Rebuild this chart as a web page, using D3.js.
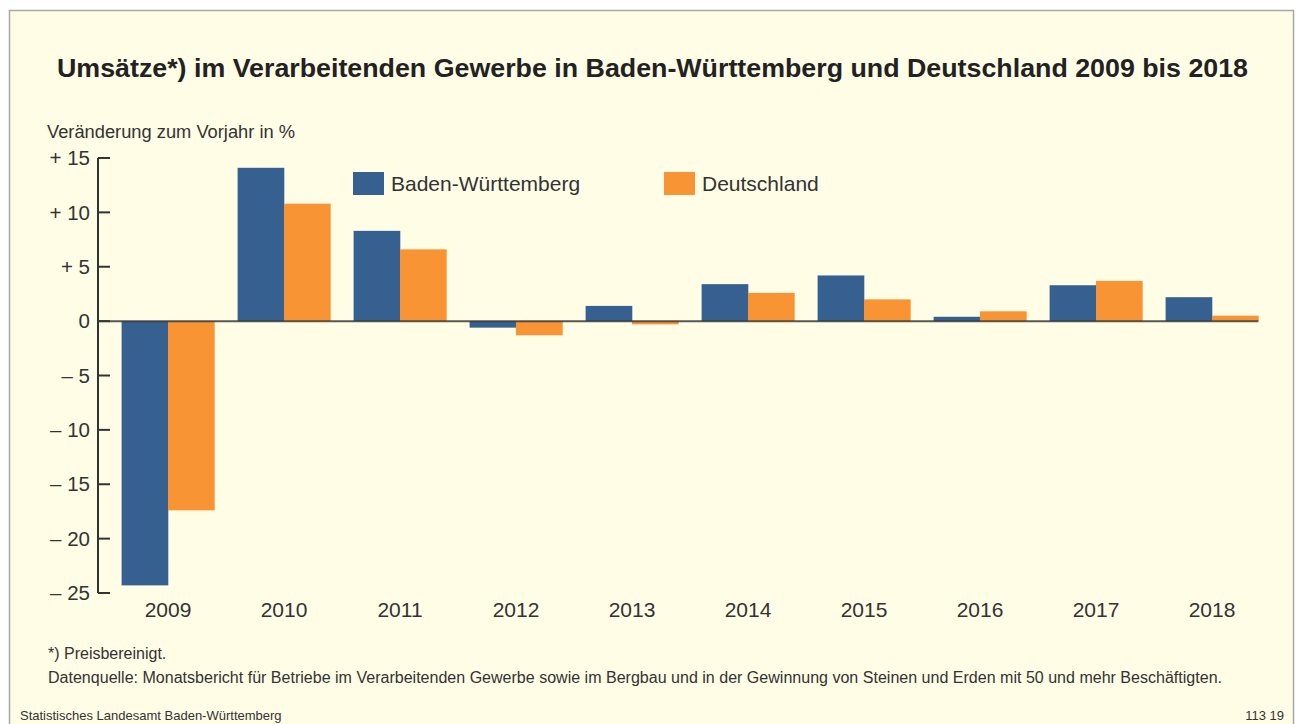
<!DOCTYPE html>
<html>
<head>
<meta charset="utf-8">
<script src="https://cdn.jsdelivr.net/npm/d3@7"></script>
<style>
  body { margin: 0; background: #ffffff; }
  svg { display: block; }
</style>
</head>
<body>
<div id="chart"></div>
<script>
const years = ['2009', '2010', '2011', '2012', '2013', '2014', '2015', '2016', '2017', '2018'];
const bwValues = [-24.3, 14.1, 8.3, -0.6, 1.4, 3.4, 4.2, 0.4, 3.3, 2.2];
const deValues = [-17.4, 10.8, 6.6, -1.3, -0.3, 2.6, 2.0, 0.9, 3.7, 0.5];
const seriesNames = ['Baden-Württemberg', 'Deutschland'];
const seriesColors = ['#35608f', '#f89434'];
const yTicks = [15, 10, 5, 0, -5, -10, -15, -20, -25];

const width = 1297;
const height = 724;
const font = '"Liberation Sans", Arial, sans-serif';
const textColor = '#333333';

const svg = d3.select('#chart')
  .append('svg')
  .attr('width', width)
  .attr('height', height);

// panel
svg.append('rect')
  .attr('x', 9.5)
  .attr('y', 10.5)
  .attr('width', 1284)
  .attr('height', 730)
  .attr('fill', '#fffde6')
  .attr('stroke', '#a8a8a8')
  .attr('stroke-width', 1.5);

// title
svg.append('text')
  .attr('x', 57)
  .attr('y', 77)
  .attr('font-family', font)
  .attr('font-weight', 'bold')
  .attr('font-size', '26.5px')
  .attr('textLength', 1191)
  .attr('lengthAdjust', 'spacingAndGlyphs')
  .attr('fill', '#222222')
  .text('Umsätze*) im Verarbeitenden Gewerbe in Baden-Württemberg und Deutschland 2009 bis 2018');

svg.append('text')
  .attr('x', 47)
  .attr('y', 138)
  .attr('font-family', font)
  .attr('font-size', '18.3px')
  .attr('fill', textColor)
  .text('Veränderung zum Vorjahr in %');

// scales
const y = d3.scaleLinear()
  .domain([-25, 15])
  .range([593, 158]);

const x = d3.scaleBand()
  .domain(years)
  .range([110, 1270])
  .paddingInner(0.2)
  .paddingOuter(0.1);

const xSub = d3.scaleBand()
  .domain(seriesNames)
  .range([0, x.bandwidth()]);

const axisX = 98;

// bars
const groups = svg.append('g')
  .selectAll('g')
  .data(years)
  .enter()
  .append('g')
  .attr('transform', d => `translate(${x(d)},0)`);

groups.selectAll('rect')
  .data((d, i) => [bwValues[i], deValues[i]].map((v, j) => ({ v, s: seriesNames[j], c: seriesColors[j] })))
  .enter()
  .append('rect')
  .attr('x', d => xSub(d.s))
  .attr('y', d => y(Math.max(0, d.v)))
  .attr('width', xSub.bandwidth() + 0.3)
  .attr('height', d => Math.abs(y(d.v) - y(0)))
  .attr('fill', d => d.c);

// y axis
const yAxis = svg.append('g')
  .attr('transform', `translate(${axisX},0)`);

yAxis.append('line')
  .attr('y1', y(15))
  .attr('y2', y(-25))
  .attr('stroke', '#333333')
  .attr('stroke-width', 2);

yAxis.selectAll('.tick')
  .data(yTicks)
  .enter()
  .append('line')
  .attr('x1', 0)
  .attr('x2', 12)
  .attr('y1', d => y(d))
  .attr('y2', d => y(d))
  .attr('stroke', '#333333')
  .attr('stroke-width', 2);

const fmt = d => (d > 0 ? `+ ${d}` : d < 0 ? `\u2013 ${-d}` : '0');

yAxis.selectAll('.label')
  .data(yTicks)
  .enter()
  .append('text')
  .attr('x', -8)
  .attr('y', d => y(d))
  .attr('dy', '0.35em')
  .attr('text-anchor', 'end')
  .attr('font-family', font)
  .attr('font-size', '20.5px')
  .attr('fill', textColor)
  .text(fmt);

// zero line
svg.append('line')
  .attr('x1', axisX)
  .attr('x2', x(years[years.length - 1]) + x.bandwidth())
  .attr('y1', y(0))
  .attr('y2', y(0))
  .attr('stroke', '#3a3a3a')
  .attr('stroke-opacity', 0.85)
  .attr('stroke-width', 2);

// year labels
svg.append('g')
  .selectAll('text')
  .data(years)
  .enter()
  .append('text')
  .attr('x', d => x(d) + x.bandwidth() / 2)
  .attr('y', 617)
  .attr('text-anchor', 'middle')
  .attr('font-family', font)
  .attr('font-size', '21px')
  .attr('fill', textColor)
  .text(d => d);

// legend
const legendX = [353, 664];
const legend = svg.append('g')
  .selectAll('g')
  .data(seriesNames)
  .enter()
  .append('g')
  .attr('transform', (d, i) => `translate(${legendX[i]},172)`);

legend.append('rect')
  .attr('width', 31)
  .attr('height', 23)
  .attr('fill', (d, i) => seriesColors[i]);

legend.append('text')
  .attr('x', 38)
  .attr('y', 19)
  .attr('font-family', font)
  .attr('font-size', '21px')
  .attr('fill', textColor)
  .text(d => d);

// footnotes
svg.append('text')
  .attr('x', 48)
  .attr('y', 659)
  .attr('font-family', font)
  .attr('font-size', '16px')
  .attr('fill', textColor)
  .text('*) Preisbereinigt.');

svg.append('text')
  .attr('x', 48)
  .attr('y', 683)
  .attr('font-family', font)
  .attr('font-size', '16px')
  .attr('textLength', 1174)
  .attr('lengthAdjust', 'spacingAndGlyphs')
  .attr('fill', textColor)
  .text('Datenquelle: Monatsbericht für Betriebe im Verarbeitenden Gewerbe sowie im Bergbau und in der Gewinnung von Steinen und Erden mit 50 und mehr Beschäftigten.');

svg.append('text')
  .attr('x', 20)
  .attr('y', 720)
  .attr('font-family', font)
  .attr('font-size', '13px')
  .attr('fill', textColor)
  .text('Statistisches Landesamt Baden-Württemberg');

svg.append('text')
  .attr('x', 1284)
  .attr('y', 720)
  .attr('text-anchor', 'end')
  .attr('font-family', font)
  .attr('font-size', '13px')
  .attr('fill', textColor)
  .text('113 19');
</script>
</body>
</html>
